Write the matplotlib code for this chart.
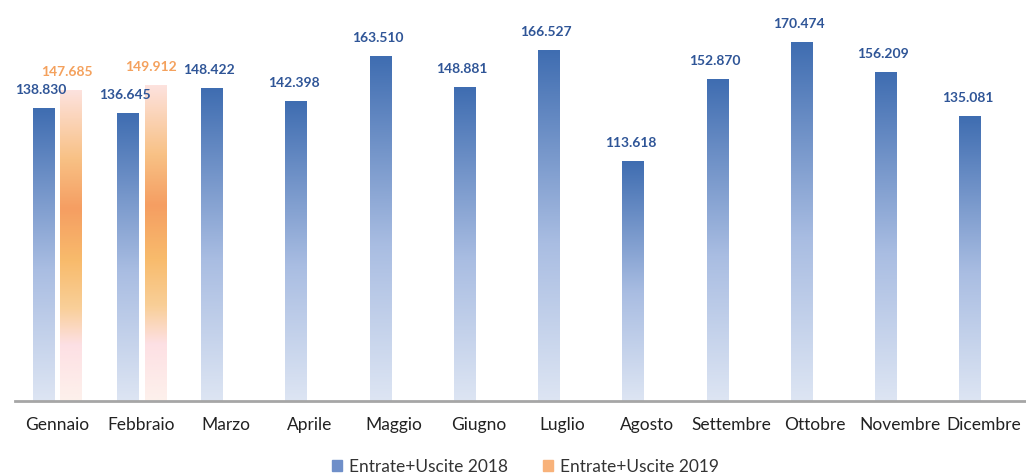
import numpy as np
import matplotlib.pyplot as plt
from matplotlib.colors import LinearSegmentedColormap
from matplotlib.patches import Rectangle

months = ["Gennaio", "Febbraio", "Marzo", "Aprile", "Maggio", "Giugno",
          "Luglio", "Agosto", "Settembre", "Ottobre", "Novembre", "Dicembre"]
vals_2018 = [138830, 136645, 148422, 142398, 163510, 148881,
             166527, 113618, 152870, 170474, 156209, 135081]
vals_2019 = [147685, 149912]
labels_2018 = ["138.830", "136.645", "148.422", "142.398", "163.510", "148.881",
               "166.527", "113.618", "152.870", "170.474", "156.209", "135.081"]
labels_2019 = ["147.685", "149.912"]

plt.rcParams['font.family'] = ['Lato', 'DejaVu Sans']

blue_cmap = LinearSegmentedColormap.from_list(
    "blue", [(0.0, "#dde5f3"), (0.45, "#a9bde2"), (1.0, "#3f6db1")])
orange_cmap = LinearSegmentedColormap.from_list(
    "orange", [(0.0, "#fdf1ec"), (0.18, "#fde0e4"), (0.3, "#f9cf98"),
               (0.45, "#f8bb6c"), (0.62, "#f59e62"), (0.78, "#f8c185"),
               (1.0, "#fde2de")])

fig = plt.figure(figsize=(10.26, 4.77), dpi=100)
ax = fig.add_axes([0.0146, 0.157, 0.9854, 0.843])

x = np.arange(len(months))
width = 0.25
offset = 0.165
grad = np.linspace(0, 1, 256).reshape(-1, 1)


def grad_bar(xc, h, cmap):
    x0 = xc - width / 2
    ax.imshow(grad, cmap=cmap, origin="lower", aspect="auto",
              extent=[x0, x0 + width, 0, h], zorder=2)


for i, v in enumerate(vals_2018):
    grad_bar(x[i] - offset, v, blue_cmap)
    ax.text(x[i] - offset - 0.03, v + 6500, labels_2018[i], ha="center", va="bottom",
            fontsize=10, fontweight="bold", color="#2f5597")

for i, v in enumerate(vals_2019):
    grad_bar(x[i] + offset, v, orange_cmap)
    ax.text(x[i] + offset - 0.05, v + 6500, labels_2019[i], ha="center", va="bottom",
            fontsize=10, fontweight="bold", color="#f4a15d")

ax.set_xlim(-0.5, len(months) - 0.5)
ax.set_ylim(0, 191000)
ax.set_xticks(x)
ax.set_xticklabels(months, fontsize=12.5, color="#222222")
ax.tick_params(axis="x", length=0, pad=11)
ax.set_yticks([])
for s in ["top", "right", "left"]:
    ax.spines[s].set_visible(False)
ax.spines["bottom"].set_color("#a6a6a6")
ax.spines["bottom"].set_linewidth(2)

handles = [Rectangle((0, 0), 1, 1, color="#6f8fc9"),
           Rectangle((0, 0), 1, 1, color="#f8b27a")]
fig.legend(handles, ["Entrate+Uscite 2018", "Entrate+Uscite 2019"],
           loc="center", bbox_to_anchor=(0.512, 0.02), ncol=2, frameon=False,
           fontsize=12.5, handlelength=0.6, handleheight=0.6, columnspacing=2.0,
           handletextpad=0.4, labelcolor="#333333")

fig.savefig("out.png", dpi=100)
